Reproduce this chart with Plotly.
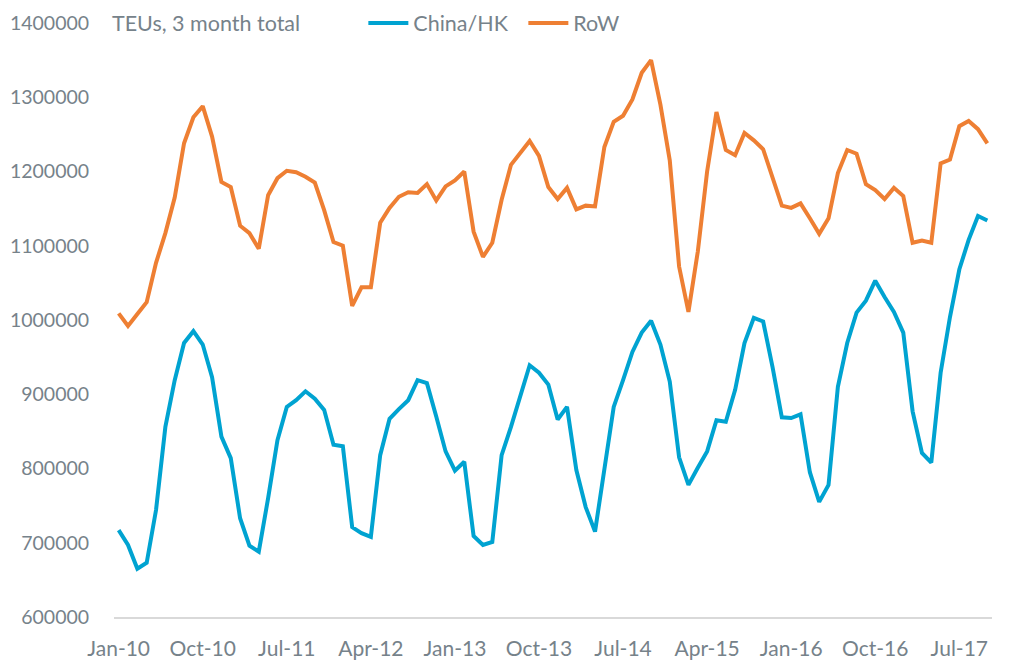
import plotly.graph_objects as go
import pandas as pd

months = [d.strftime("%b-%y") for d in pd.date_range("2010-01-01", periods=94, freq="MS")]

china_hk = [717000, 697000, 665000, 673000, 744000, 856000, 919000, 969000, 985000, 967000,
            923000, 843000, 814000, 733000, 696000, 688000, 760000, 838000, 883000, 892000,
            904000, 894000, 879000, 832000, 830000, 721000, 713000, 708000, 818000, 867000,
            880000, 892000, 919000, 915000, 870000, 823000, 797000, 809000, 709000, 697000,
            701000, 818000, 856000, 896000, 939000, 929000, 913000, 866000, 883000, 798000,
            748000, 715000, 800000, 883000, 919000, 957000, 983000, 999000, 967000, 917000,
            815000, 778000, 801000, 823000, 865000, 863000, 906000, 969000, 1003000, 998000,
            937000, 869000, 868000, 873000, 795000, 755000, 778000, 910000, 969000, 1010000,
            1026000, 1053000, 1031000, 1011000, 983000, 877000, 821000, 808000, 929000, 1004000,
            1068000, 1108000, 1140000, 1134000]

row = [1009000, 992000, 1008000, 1024000, 1077000, 1117000, 1165000, 1238000, 1273000, 1288000,
       1247000, 1186000, 1179000, 1127000, 1117000, 1096000, 1168000, 1191000, 1201000, 1199000,
       1193000, 1185000, 1148000, 1105000, 1100000, 1019000, 1044000, 1044000, 1131000, 1151000,
       1166000, 1172000, 1171000, 1183000, 1161000, 1180000, 1188000, 1200000, 1119000, 1085000,
       1104000, 1162000, 1209000, 1224000, 1241000, 1221000, 1179000, 1163000, 1178000, 1149000,
       1154000, 1153000, 1233000, 1267000, 1275000, 1297000, 1333000, 1350000, 1290000, 1215000,
       1072000, 1011000, 1092000, 1200000, 1280000, 1229000, 1222000, 1252000, 1242000, 1230000,
       1193000, 1154000, 1151000, 1157000, 1137000, 1116000, 1137000, 1198000, 1229000, 1224000,
       1183000, 1175000, 1163000, 1178000, 1167000, 1104000, 1107000, 1104000, 1211000, 1216000,
       1261000, 1268000, 1257000, 1238000]

tick_labels = months[::9]

font_family = "Lato, 'Open Sans', sans-serif"
text_color = "#76828a"

fig = go.Figure()
fig.add_trace(go.Scatter(x=months, y=china_hk, mode="lines", name="China/HK",
                         line=dict(color="#00a3d1", width=4)))
fig.add_trace(go.Scatter(x=months, y=row, mode="lines", name="RoW",
                         line=dict(color="#ee7f33", width=4)))

fig.update_layout(
    width=1011, height=670,
    margin=dict(l=106, r=27, t=15, b=61, autoexpand=False),
    paper_bgcolor="white", plot_bgcolor="white",
    font=dict(family=font_family, size=19, color=text_color),
    showlegend=True,
    legend=dict(orientation="h", x=0.284, y=1.0, xanchor="left", yanchor="middle",
                font=dict(size=21.5, color=text_color), bgcolor="rgba(0,0,0,0)",
                itemwidth=40, tracegroupgap=0, entrywidth=105),
    annotations=[dict(text="TEUs, 3 month total", xref="paper", yref="paper",
                      x=-0.004, y=1.0, xanchor="left", yanchor="middle", showarrow=False,
                      font=dict(size=21.5, color=text_color))],
)
fig.update_xaxes(type="category", categoryorder="array", categoryarray=months,
                 tickmode="array", tickvals=tick_labels, ticktext=tick_labels,
                 range=[-0.5, len(months) - 0.5],
                 showgrid=False, showline=True, linecolor="#d9d9d9", linewidth=2,
                 ticks="outside", ticklen=12, tickcolor="rgba(0,0,0,0)",
                 tickfont=dict(size=21, color=text_color), zeroline=False)
fig.update_yaxes(range=[600000, 1400000], dtick=100000, tick0=600000, tickformat="d",
                 showgrid=False, showline=False, zeroline=False,
                 ticks="outside", ticklen=20, tickcolor="rgba(0,0,0,0)",
                 tickfont=dict(size=19.5, color=text_color))

fig.write_html("out.html")
